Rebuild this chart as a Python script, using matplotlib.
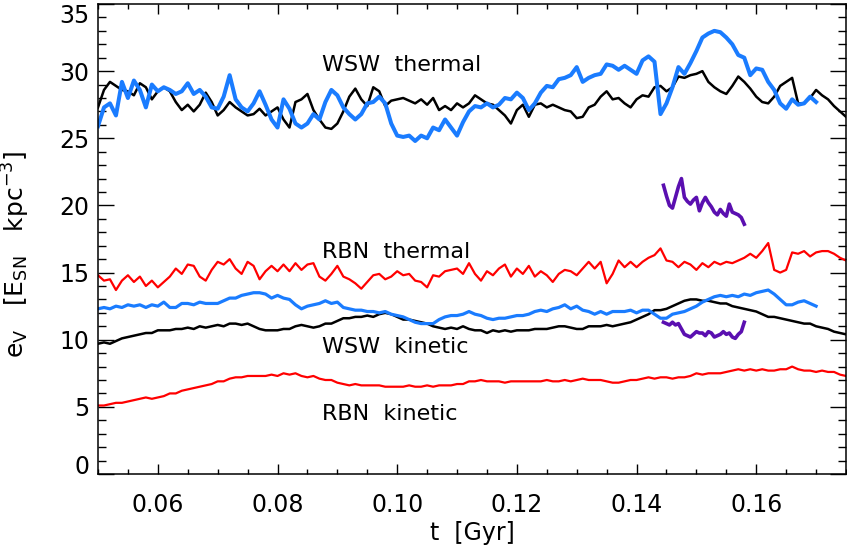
import numpy as np
import matplotlib.pyplot as plt
from matplotlib.ticker import MultipleLocator

plt.rcParams['font.family'] = 'DejaVu Sans'
plt.rcParams['mathtext.default'] = 'regular'

# time axis [Gyr]
t_full = np.round(np.arange(0.050, 0.1755, 0.001), 3)   # 0.050 ... 0.175
t_short = t_full[:121]                                   # 0.050 ... 0.170
t_wind = np.round(np.arange(0.1445, 0.15801, 0.0005), 4) # 0.1445 ... 0.158

# volume energy densities [E_SN kpc^-3]
wsw_thermal_a = [
    27.3, 28.6, 29.2, 28.9, 28.6, 28.5, 28.2, 29.1, 28.8, 27.9,
    28.5, 28.8, 28.5, 27.7, 27.1, 27.5, 27.0, 27.5, 28.4, 27.7,
    26.7, 27.1, 27.7, 27.3, 27.0, 26.7, 26.8, 27.2, 26.7, 27.0,
    27.3, 26.4, 25.8, 27.7, 27.9, 28.3, 27.1, 26.4, 25.8, 25.7,
    26.1, 27.0, 28.1, 28.7, 27.9, 27.4, 28.8, 28.5, 27.4, 27.8,
    27.9, 28.0, 27.8, 27.6, 27.9, 27.5, 28.0, 27.1, 27.4, 27.1,
    27.6, 27.3, 27.6, 28.2, 27.9, 27.6, 27.5, 27.1, 26.7, 26.1,
    27.1, 27.5, 26.6, 27.5, 27.6, 27.3, 27.5, 27.3, 27.1, 27.0,
    26.5, 26.6, 27.3, 27.5, 28.1, 28.5, 27.9, 28.0, 27.6, 27.3,
    27.9, 28.2, 28.1, 28.8, 28.9, 28.5, 28.8, 29.6, 29.5, 29.7,
    29.8, 30.0, 29.2, 28.8, 28.5, 28.3, 28.9, 29.6, 29.2, 28.7,
    28.1, 27.7, 27.6, 28.1, 28.9, 29.2, 29.5, 27.6, 27.6, 28.0,
    28.6, 28.2, 27.9, 27.4, 27.0, 26.6]
wsw_thermal_b = [
    25.9, 27.3, 27.6, 26.7, 29.2, 28.0, 29.3, 28.6, 27.3, 29.0,
    28.5, 28.8, 28.6, 28.3, 28.5, 29.1, 28.3, 28.6, 28.1, 27.3,
    27.2, 28.1, 29.7, 27.9, 27.3, 27.0, 27.6, 28.5, 27.5, 26.4,
    25.8, 27.9, 27.2, 26.1, 25.8, 26.1, 26.8, 26.4, 27.7, 28.6,
    28.2, 27.3, 26.8, 26.4, 26.8, 27.6, 27.7, 28.1, 27.6, 26.1,
    25.2, 25.1, 25.2, 24.8, 25.2, 25.0, 25.8, 25.6, 26.4, 25.8,
    25.2, 26.2, 27.0, 27.4, 27.3, 27.6, 27.3, 27.5, 28.0, 27.9,
    28.4, 28.0, 27.1, 27.6, 28.4, 28.9, 28.8, 29.4, 29.5, 29.7,
    30.3, 29.2, 29.5, 29.7, 29.8, 30.5, 30.4, 30.1, 30.4, 30.1,
    29.8, 30.8, 31.1, 30.7, 26.8, 27.6, 28.8, 30.3, 29.8, 30.6,
    31.5, 32.5, 32.8, 33.0, 32.9, 32.5, 32.0, 31.2, 31.0, 29.7,
    30.2, 30.1, 29.2, 28.6, 27.6, 27.2, 27.9, 27.5, 27.6, 28.1,
    27.7]
rbn_thermal = [
    14.8, 14.4, 14.5, 13.7, 14.4, 14.8, 14.3, 14.7, 14.0, 14.4,
    13.9, 14.3, 14.7, 15.3, 14.9, 15.6, 15.5, 14.7, 14.4, 15.2,
    15.8, 15.6, 16.0, 15.3, 14.9, 15.8, 15.5, 14.5, 15.1, 15.5,
    15.1, 15.6, 15.1, 15.7, 15.2, 15.6, 15.7, 14.7, 14.4, 14.9,
    15.5, 14.7, 14.5, 14.2, 13.8, 14.3, 14.8, 14.9, 14.5, 14.7,
    15.1, 14.8, 14.9, 14.4, 14.3, 13.9, 14.8, 14.7, 15.1, 15.2,
    15.3, 14.9, 15.7, 14.9, 14.4, 15.1, 14.8, 15.3, 15.6, 14.7,
    15.3, 14.9, 15.5, 14.7, 15.1, 14.8, 14.3, 14.9, 15.2, 15.1,
    14.8, 15.3, 15.8, 15.3, 15.8, 14.2, 14.9, 15.9, 15.4, 15.8,
    15.4, 15.8, 16.1, 16.3, 16.8, 15.9, 15.8, 15.4, 15.8, 15.6,
    15.2, 15.7, 15.4, 15.8, 15.6, 15.8, 15.7, 15.9, 16.1, 16.4,
    16.1, 16.6, 17.2, 15.2, 15.0, 15.2, 16.5, 16.4, 16.6, 16.2,
    16.5, 16.6, 16.6, 16.4, 16.1, 15.9]
wsw_kinetic_b = [
    12.3, 12.4, 12.3, 12.5, 12.4, 12.6, 12.5, 12.6, 12.4, 12.6,
    12.5, 12.8, 12.4, 12.4, 12.7, 12.7, 12.6, 12.8, 12.7, 12.7,
    12.7, 12.9, 13.1, 13.1, 13.3, 13.4, 13.5, 13.5, 13.4, 13.1,
    13.3, 13.1, 13.0, 12.6, 12.3, 12.5, 12.6, 12.7, 12.9, 12.7,
    12.8, 12.4, 12.3, 12.2, 12.2, 12.1, 12.1, 12.0, 12.1, 11.9,
    11.8, 11.7, 11.5, 11.3, 11.2, 11.2, 11.2, 11.5, 11.7, 11.8,
    11.8, 11.9, 12.1, 11.9, 11.8, 11.6, 11.5, 11.6, 11.6, 11.7,
    11.8, 11.8, 11.9, 12.1, 12.2, 12.1, 12.3, 12.4, 12.6, 12.3,
    12.5, 12.2, 12.1, 11.9, 12.1, 11.9, 12.1, 12.1, 12.1, 12.2,
    12.0, 12.2, 12.2, 11.9, 11.6, 11.6, 11.9, 12.0, 12.1, 12.3,
    12.5, 12.8, 13.0, 13.2, 13.3, 13.2, 13.3, 13.2, 13.4, 13.3,
    13.5, 13.6, 13.7, 13.4, 13.0, 12.6, 12.6, 12.8, 12.9, 12.7,
    12.5]
wsw_kinetic_a = [
    9.7, 9.8, 9.7, 9.9, 10.1, 10.2, 10.3, 10.4, 10.5, 10.5,
    10.7, 10.7, 10.7, 10.8, 10.8, 10.9, 10.8, 11.0, 10.9, 11.0,
    11.1, 11.0, 11.2, 11.2, 11.1, 11.2, 11.0, 10.8, 10.7, 10.7,
    10.7, 10.8, 10.8, 11.0, 11.1, 11.0, 10.9, 11.0, 11.2, 11.2,
    11.4, 11.6, 11.6, 11.7, 11.7, 11.8, 11.7, 11.9, 12.0, 11.9,
    11.7, 11.5, 11.5, 11.4, 11.3, 11.2, 11.0, 10.9, 10.8, 10.9,
    10.8, 11.0, 10.8, 10.7, 10.7, 10.5, 10.7, 10.6, 10.7, 10.6,
    10.7, 10.7, 10.7, 10.8, 10.8, 10.8, 10.9, 11.0, 11.0, 10.9,
    10.8, 10.8, 11.0, 11.0, 11.0, 11.1, 11.0, 11.1, 11.2, 11.3,
    11.5, 11.7, 11.9, 12.2, 12.2, 12.3, 12.5, 12.7, 12.9, 13.0,
    13.0, 12.9, 12.9, 12.8, 12.7, 12.7, 12.5, 12.4, 12.3, 12.2,
    12.1, 11.9, 11.7, 11.7, 11.6, 11.5, 11.4, 11.3, 11.2, 11.2,
    11.0, 10.9, 10.8, 10.6, 10.5, 10.4]
rbn_kinetic = [
    5.1, 5.1, 5.2, 5.3, 5.3, 5.4, 5.5, 5.6, 5.7, 5.6,
    5.7, 5.8, 6.0, 6.0, 6.2, 6.3, 6.4, 6.5, 6.6, 6.7,
    6.9, 6.9, 7.1, 7.2, 7.2, 7.3, 7.3, 7.3, 7.3, 7.4,
    7.3, 7.5, 7.4, 7.5, 7.3, 7.2, 7.3, 7.1, 7.0, 7.0,
    6.8, 6.7, 6.6, 6.7, 6.6, 6.6, 6.6, 6.6, 6.5, 6.5,
    6.5, 6.5, 6.6, 6.5, 6.5, 6.6, 6.5, 6.6, 6.6, 6.6,
    6.7, 6.7, 6.9, 6.9, 7.0, 6.9, 6.9, 6.9, 6.8, 6.9,
    6.9, 6.9, 6.9, 6.9, 6.9, 7.0, 6.9, 6.9, 7.0, 6.9,
    7.0, 7.1, 7.0, 7.0, 7.0, 6.9, 6.8, 6.8, 6.9, 7.0,
    7.0, 7.1, 7.2, 7.1, 7.2, 7.2, 7.1, 7.2, 7.2, 7.3,
    7.5, 7.4, 7.5, 7.5, 7.5, 7.6, 7.7, 7.8, 7.7, 7.8,
    7.7, 7.8, 7.7, 7.7, 7.8, 7.8, 8.0, 7.8, 7.7, 7.7,
    7.6, 7.7, 7.6, 7.6, 7.4, 7.3]
wind_thermal = [
    21.5, 20.7, 20.0, 19.8, 20.6, 21.4, 22.0, 20.6, 20.3, 20.1,
    20.4, 20.6, 19.6, 20.2, 20.6, 20.2, 19.9, 19.5, 19.3, 19.7,
    19.4, 19.2, 20.1, 19.5, 19.4, 19.3, 19.1, 18.6]
wind_kinetic = [
    11.3, 11.2, 11.1, 11.3, 11.1, 11.2, 10.8, 10.4, 10.3, 10.2,
    10.4, 10.6, 10.5, 10.5, 10.3, 10.6, 10.5, 10.2, 10.3, 10.4,
    10.6, 10.4, 10.5, 10.2, 10.1, 10.4, 10.6, 11.3]

yticks = [0, 5, 10, 15, 20, 25, 30, 35]

blue = '#1a7cff'
purple = '#5a0fb0'

fig = plt.figure(figsize=(8.47, 5.51), dpi=100)
ax = fig.add_axes([98/847, 77/551, 748/847, 470/551])

ax.plot(t_full, wsw_thermal_a, color='black', lw=1.8)
ax.plot(t_short, wsw_thermal_b, color=blue, lw=2.9)
ax.plot(t_full, rbn_thermal, color='red', lw=1.6)
ax.plot(t_full, wsw_kinetic_a, color='black', lw=1.8)
ax.plot(t_short, wsw_kinetic_b, color=blue, lw=2.3)
ax.plot(t_full, rbn_kinetic, color='red', lw=1.6)
ax.plot(t_wind, wind_thermal, color=purple, lw=2.6)
ax.plot(t_wind, wind_kinetic, color=purple, lw=2.6)

labels = ['WSW  thermal', 'RBN  thermal', 'WSW  kinetic', 'RBN  kinetic']
label_y = [30.0, 16.1, 9.0, 4.0]
for txt, yy in zip(labels, label_y):
    ax.text(0.0875, yy, txt, fontsize=16, va='baseline', ha='left')

ax.set_xlim(0.05, 0.175)
ax.set_ylim(0, 35)
ax.xaxis.set_major_locator(MultipleLocator(0.02))
ax.xaxis.set_minor_locator(MultipleLocator(0.005))
ax.set_yticks(yticks)
ax.yaxis.set_minor_locator(MultipleLocator(1))
ax.xaxis.set_major_formatter(lambda v, p: f'{v:.2f}')

ax.tick_params(which='both', direction='in', top=True, right=True,
               width=1.0, labelsize=17)
ax.tick_params(axis='x', which='major', length=7.5, pad=14)
ax.tick_params(axis='x', which='minor', length=3.8)
ax.tick_params(axis='y', which='major', length=11.5, pad=6)
ax.tick_params(axis='y', which='minor', length=6)
for s in ax.spines.values():
    s.set_linewidth(1.1)

# keep the end labels inside the frame
ylabs = ax.get_yticklabels()
ylabs[0].set_verticalalignment('baseline')
ylabs[-1].set_verticalalignment('top')

ax.set_xlabel('t  [Gyr]', fontsize=17)
ax.set_ylabel('e$_V$   [E$_{SN}$   kpc$^{-3}$]', fontsize=18)
ax.xaxis.set_label_coords(0.5, -0.1)
ax.yaxis.set_label_coords(-0.088, 0.468)

fig.savefig('out.png', dpi=100)
